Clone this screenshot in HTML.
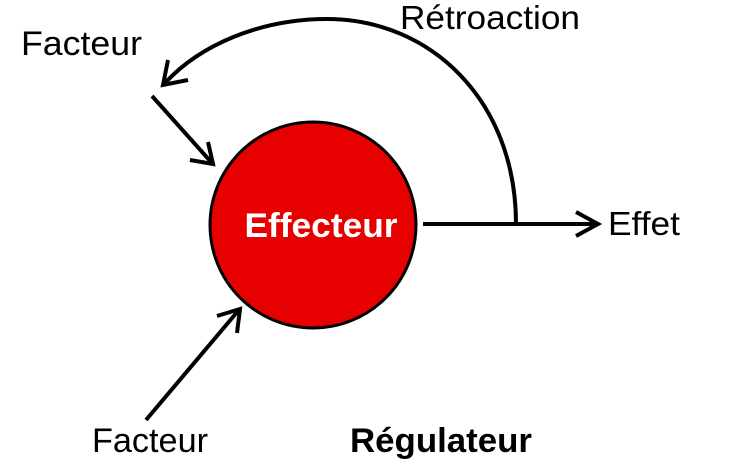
<!DOCTYPE html>
<html><head><meta charset="utf-8"><style>
body{margin:0;background:#fff;}
svg{display:block;}
text{font-family:"Liberation Sans",sans-serif;}
</style></head><body>
<svg width="734" height="464" viewBox="0 0 734 464">
<circle cx="313" cy="225" r="103" fill="#e60000" stroke="#000" stroke-width="3"/>
<text x="321" y="237" font-size="34" font-weight="bold" fill="#fff" text-anchor="middle" textLength="153" lengthAdjust="spacingAndGlyphs">Effecteur</text>
<!-- effect arrow -->
<line x1="423" y1="224" x2="596" y2="224" stroke="#000" stroke-width="4"/>
<polyline points="576,212 598,224 576,236" fill="none" stroke="#000" stroke-width="4"/>
<text x="608" y="235" font-size="33" textLength="72" lengthAdjust="spacingAndGlyphs">Effet</text>
<!-- feedback arc -->
<path d="M516 224 C516 100 430 19 327 19 C260 19 200 45 165 83" fill="none" stroke="#000" stroke-width="4"/>
<polyline points="168,60 163,85 188,80" fill="none" stroke="#000" stroke-width="4"/>
<text x="400" y="29" font-size="33" textLength="180" lengthAdjust="spacingAndGlyphs">Rétroaction</text>
<!-- top factor -->
<text x="21" y="55" font-size="34" textLength="121" lengthAdjust="spacingAndGlyphs">Facteur</text>
<line x1="152" y1="96" x2="212" y2="163" stroke="#000" stroke-width="4"/>
<polyline points="190,160 213,164 208,142" fill="none" stroke="#000" stroke-width="4"/>
<!-- bottom factor -->
<line x1="146" y1="420" x2="238" y2="311" stroke="#000" stroke-width="4"/>
<polyline points="217,316 240,309 237,333" fill="none" stroke="#000" stroke-width="4"/>
<text x="92" y="452" font-size="34" textLength="116" lengthAdjust="spacingAndGlyphs">Facteur</text>
<text x="350" y="452" font-size="34" font-weight="bold" textLength="182" lengthAdjust="spacingAndGlyphs">Régulateur</text>
</svg>
</body></html>
